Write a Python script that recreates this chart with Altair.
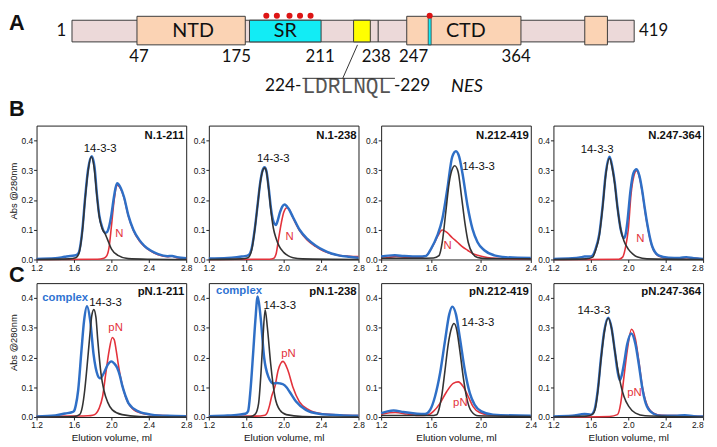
import altair as alt
import pandas as pd

# ---------------- data: panel A (residue numbers of N protein) ----------------
bar_span = [[1, 419]]
globular_domains = [[47, 175], [247, 364], [395, 406]]
domain_names = [["NTD", 111], ["CTD", 305.5]]
sr_region = [[177, 211]]
nes_region = [[224, 229]]
boundary_238 = [238]
ctd_site = [[269, 272]]
phospho_sites = [185, 190, 196, 201, 206, 270.5]
residue_labels = [47, 175, 211, 238, 247, 364]

# ---------------- data: SEC profiles [elution volume ml, A280] ----------------
B1_complex = [[1.2,0.002],[1.4,0.004],[1.5,0.009],[1.56,0.012],[1.62,0.014],[1.65,0.022],[1.67,0.05],[1.69,0.1],[1.72,0.21],[1.75,0.3],[1.79,0.347],[1.82,0.31],[1.845,0.22],[1.87,0.15],[1.9,0.11],[1.935,0.09],[1.955,0.093],[1.975,0.11],[2.0,0.15],[2.03,0.215],[2.06,0.256],[2.1,0.24],[2.135,0.21],[2.18,0.15],[2.235,0.1],[2.3,0.065],[2.35,0.047],[2.42,0.03],[2.5,0.018],[2.6,0.011],[2.65,0.012],[2.7,0.008],[2.8,0.004]]
B1_1433 = [[1.2,0.0],[1.55,0.002],[1.62,0.006],[1.65,0.018],[1.67,0.046],[1.69,0.096],[1.72,0.205],[1.75,0.295],[1.785,0.345],[1.815,0.31],[1.845,0.215],[1.87,0.145],[1.9,0.105],[1.935,0.085],[1.955,0.07],[2.0,0.036],[2.07,0.014],[2.18,0.003],[2.4,0.001],[2.8,0.0]]
B1_N = [[1.2,0.0],[1.85,0.001],[1.92,0.004],[1.95,0.012],[1.975,0.04],[2.0,0.11],[2.03,0.2],[2.06,0.25],[2.1,0.237],[2.135,0.207],[2.18,0.148],[2.235,0.098],[2.3,0.062],[2.35,0.045],[2.42,0.028],[2.5,0.016],[2.6,0.009],[2.65,0.011],[2.7,0.006],[2.8,0.003]]

B2_complex = [[1.2,0.003],[1.4,0.005],[1.5,0.008],[1.55,0.01],[1.6,0.012],[1.63,0.016],[1.66,0.04],[1.69,0.1],[1.72,0.18],[1.75,0.26],[1.775,0.3],[1.795,0.31],[1.815,0.298],[1.84,0.24],[1.865,0.17],[1.89,0.128],[1.917,0.116],[1.94,0.135],[1.96,0.158],[1.985,0.178],[2.01,0.185],[2.05,0.172],[2.1,0.142],[2.17,0.1],[2.25,0.07],[2.34,0.047],[2.42,0.032],[2.51,0.02],[2.6,0.013],[2.7,0.009],[2.8,0.006]]
B2_1433 = [[1.2,0.0],[1.55,0.002],[1.62,0.006],[1.66,0.035],[1.69,0.097],[1.72,0.178],[1.75,0.258],[1.775,0.298],[1.795,0.308],[1.815,0.296],[1.84,0.235],[1.865,0.16],[1.89,0.105],[1.92,0.07],[1.95,0.046],[2.0,0.024],[2.05,0.012],[2.1,0.006],[2.2,0.002],[2.8,0.0]]
B2_N = [[1.2,0.0],[1.85,0.001],[1.89,0.003],[1.92,0.02],[1.94,0.058],[1.976,0.125],[2.0,0.158],[2.035,0.174],[2.06,0.168],[2.1,0.14],[2.17,0.097],[2.25,0.066],[2.34,0.044],[2.42,0.029],[2.51,0.019],[2.6,0.013],[2.7,0.011],[2.8,0.01]]

B3_complex = [[1.2,0.01],[1.26,0.013],[1.31,0.014],[1.38,0.012],[1.5,0.01],[1.56,0.012],[1.6,0.036],[1.65,0.08],[1.69,0.135],[1.73,0.235],[1.77,0.345],[1.8,0.364],[1.826,0.345],[1.852,0.29],[1.893,0.18],[1.933,0.102],[1.973,0.058],[2.027,0.031],[2.107,0.014],[2.2,0.008],[2.4,0.005]]
B3_1433 = [[1.2,0.004],[1.5,0.004],[1.62,0.005],[1.664,0.013],[1.69,0.058],[1.718,0.158],[1.745,0.257],[1.772,0.306],[1.79,0.315],[1.817,0.295],[1.844,0.213],[1.871,0.125],[1.898,0.058],[1.933,0.02],[1.973,0.007],[2.05,0.003],[2.4,0.002]]
B3_N = [[1.2,0.003],[1.26,0.007],[1.32,0.01],[1.4,0.007],[1.5,0.006],[1.557,0.012],[1.6,0.035],[1.624,0.053],[1.656,0.08],[1.69,0.099],[1.73,0.09],[1.77,0.073],[1.812,0.058],[1.85,0.043],[1.893,0.031],[1.933,0.02],[1.973,0.014],[2.05,0.007],[2.2,0.003],[2.4,0.002]]

B4_complex = [[1.2,0.002],[1.4,0.004],[1.5,0.008],[1.533,0.01],[1.59,0.01],[1.62,0.014],[1.65,0.035],[1.69,0.085],[1.726,0.18],[1.76,0.29],[1.8,0.345],[1.83,0.31],[1.855,0.26],[1.884,0.178],[1.92,0.1],[1.954,0.072],[1.975,0.09],[1.99,0.125],[2.025,0.235],[2.055,0.29],[2.088,0.303],[2.12,0.28],[2.147,0.235],[2.175,0.175],[2.2,0.125],[2.253,0.047],[2.323,0.014],[2.43,0.006],[2.55,0.005],[2.62,0.008],[2.7,0.004],[2.8,0.002]]
B4_1433 = [[1.2,0.0],[1.55,0.002],[1.62,0.008],[1.65,0.03],[1.69,0.08],[1.726,0.175],[1.76,0.285],[1.8,0.34],[1.83,0.305],[1.855,0.255],[1.884,0.175],[1.92,0.1],[1.954,0.062],[2.0,0.035],[2.05,0.018],[2.1,0.008],[2.2,0.002],[2.8,0.0]]
B4_N = [[1.2,0.0],[1.9,0.001],[1.94,0.008],[1.97,0.04],[2.0,0.1],[2.03,0.22],[2.06,0.28],[2.088,0.298],[2.12,0.275],[2.147,0.232],[2.175,0.172],[2.2,0.122],[2.253,0.045],[2.323,0.012],[2.43,0.004],[2.55,0.004],[2.62,0.006],[2.8,0.001]]

C1_complex = [[1.2,0.002],[1.4,0.005],[1.506,0.012],[1.576,0.016],[1.6,0.02],[1.62,0.04],[1.645,0.09],[1.68,0.223],[1.708,0.323],[1.739,0.372],[1.774,0.323],[1.809,0.212],[1.854,0.14],[1.88,0.13],[1.92,0.148],[1.96,0.175],[2.0,0.187],[2.03,0.18],[2.063,0.165],[2.09,0.14],[2.115,0.107],[2.15,0.072],[2.184,0.046],[2.289,0.019],[2.428,0.008],[2.6,0.004],[2.8,0.003]]
C1_1433 = [[1.2,0.0],[1.6,0.002],[1.66,0.008],[1.69,0.035],[1.715,0.09],[1.74,0.17],[1.767,0.265],[1.79,0.34],[1.812,0.361],[1.835,0.335],[1.854,0.26],[1.889,0.146],[1.92,0.09],[1.96,0.05],[2.01,0.024],[2.115,0.008],[2.3,0.002],[2.8,0.0]]
C1_pN = [[1.2,0.002],[1.6,0.003],[1.75,0.004],[1.8,0.006],[1.836,0.012],[1.87,0.03],[1.906,0.069],[1.94,0.146],[1.976,0.223],[2.01,0.267],[2.03,0.26],[2.052,0.223],[2.075,0.175],[2.097,0.135],[2.15,0.069],[2.22,0.03],[2.323,0.013],[2.5,0.006],[2.8,0.003]]

C2_complex = [[1.2,0.003],[1.4,0.005],[1.52,0.008],[1.59,0.011],[1.62,0.02],[1.645,0.09],[1.673,0.212],[1.697,0.323],[1.722,0.405],[1.745,0.36],[1.757,0.323],[1.791,0.2],[1.837,0.135],[1.889,0.113],[1.93,0.114],[1.958,0.113],[1.993,0.11],[2.03,0.1],[2.063,0.085],[2.132,0.052],[2.237,0.024],[2.376,0.011],[2.6,0.006],[2.8,0.004]]
C2_1433 = [[1.2,0.0],[1.65,0.002],[1.697,0.01],[1.732,0.046],[1.757,0.146],[1.777,0.256],[1.802,0.36],[1.826,0.3],[1.861,0.179],[1.906,0.069],[1.958,0.024],[2.028,0.008],[2.2,0.002],[2.8,0.0]]
C2_pN = [[1.2,0.002],[1.7,0.003],[1.8,0.006],[1.82,0.012],[1.85,0.04],[1.871,0.069],[1.906,0.102],[1.941,0.157],[1.993,0.187],[2.045,0.157],[2.097,0.102],[2.167,0.052],[2.271,0.024],[2.41,0.011],[2.6,0.007],[2.8,0.005]]

C3_complex = [[1.2,0.013],[1.25,0.019],[1.3,0.022],[1.38,0.017],[1.487,0.011],[1.553,0.01],[1.593,0.024],[1.632,0.069],[1.672,0.146],[1.712,0.256],[1.746,0.345],[1.77,0.371],[1.8,0.345],[1.831,0.267],[1.871,0.157],[1.911,0.08],[1.95,0.041],[2.004,0.019],[2.097,0.008],[2.4,0.004]]
C3_1433 = [[1.2,0.005],[1.6,0.005],[1.645,0.008],[1.665,0.028],[1.685,0.069],[1.712,0.157],[1.738,0.245],[1.765,0.3],[1.784,0.314],[1.805,0.295],[1.831,0.223],[1.858,0.135],[1.89,0.057],[1.924,0.019],[1.977,0.004],[2.4,0.002]]
C3_pN = [[1.2,0.008],[1.22,0.011],[1.314,0.015],[1.407,0.01],[1.513,0.005],[1.566,0.006],[1.619,0.019],[1.672,0.046],[1.725,0.085],[1.778,0.113],[1.818,0.118],[1.858,0.102],[1.898,0.069],[1.937,0.035],[1.99,0.015],[2.07,0.007],[2.4,0.003]]

C4_complex = [[1.2,0.002],[1.4,0.004],[1.533,0.01],[1.6,0.008],[1.639,0.024],[1.674,0.09],[1.709,0.2],[1.744,0.29],[1.786,0.334],[1.821,0.3],[1.856,0.223],[1.884,0.157],[1.909,0.124],[1.93,0.14],[1.954,0.179],[1.989,0.245],[2.032,0.281],[2.077,0.245],[2.112,0.179],[2.154,0.09],[2.2,0.035],[2.27,0.011],[2.358,0.004],[2.5,0.004],[2.604,0.006],[2.7,0.003],[2.8,0.002]]
C4_1433 = [[1.2,0.0],[1.55,0.003],[1.62,0.01],[1.645,0.025],[1.674,0.085],[1.709,0.195],[1.744,0.285],[1.786,0.332],[1.821,0.298],[1.856,0.222],[1.902,0.135],[1.954,0.069],[2.007,0.035],[2.077,0.013],[2.18,0.004],[2.8,0.0]]
C4_pN = [[1.2,0.0],[1.8,0.002],[1.884,0.008],[1.919,0.046],[1.954,0.135],[1.989,0.223],[2.035,0.295],[2.077,0.262],[2.112,0.19],[2.154,0.096],[2.2,0.041],[2.27,0.013],[2.358,0.006],[2.6,0.004],[2.8,0.002]]

panel_titles_B = ["N.1-211", "N.1-238", "N.212-419", "N.247-364"]
panel_titles_C = ["pN.1-211", "pN.1-238", "pN.212-419", "pN.247-364"]
x_max = [2.8, 2.8, 2.4, 2.8]

# peak labels: [text, elution volume, A280, kind]
labels_B = [
    [["14-3-3", 1.88, 0.372, "p"], ["N", 2.084, 0.086, "n"]],
    [["14-3-3", 1.889, 0.336, "p"], ["N", 2.063, 0.075, "n"]],
    [["14-3-3", 1.981, 0.312, "p"], ["N", 1.732, 0.045, "n"]],
    [["14-3-3", 1.667, 0.367, "p"], ["N", 2.13, 0.069, "n"]],
]
labels_C = [
    [["complex", 1.506, 0.4, "c"], ["14-3-3", 1.937, 0.383, "p"], ["pN", 2.045, 0.30, "n"]],
    [["complex", 1.523, 0.422, "c"], ["14-3-3", 1.958, 0.372, "p"], ["pN", 2.052, 0.212, "n"]],
    [["14-3-3", 1.976, 0.317, "p"], ["pN", 1.835, 0.046, "n"]],
    [["14-3-3", 1.632, 0.356, "p"], ["pN", 2.067, 0.08, "n"]],
]

# ---------------- styling / layout ----------------
FONT = "Liberation Sans"
AFONT = "Lato"
BLUE = "#2f6fc6"
BLACK = "#333333"
RED = "#e3323b"
W, H = 152, 136

def pts_df(pts):
    return pd.DataFrame({"x": [p[0] for p in pts], "y": [p[1] for p in pts]})


def sec_layers(title, xmax, blue, black, red, labels, first_col, bottom_row, last_col):
    xs = alt.Scale(domain=[1.2, xmax], nice=False, zero=False)
    ys = alt.Scale(domain=[0, 0.45], nice=False)
    xvals = [1.2, 1.6, 2.0, 2.4, 2.8] if xmax > 2.5 else [1.2, 1.6, 2.0, 2.4]
    xkw = dict(values=xvals, format=".1f", labelFlush=False, labelOverlap=False)
    if last_col:
        xkw["labelAlign"] = alt.ExprRef(expr="datum.value > 2.75 ? 'right' : 'center'")
    if bottom_row:
        xaxis = alt.Axis(title="Elution volume, ml", titleFontSize=10, titlePadding=3, **xkw)
    else:
        xaxis = alt.Axis(title=None, **xkw)
    ykw = dict(values=[0, 0.1, 0.2, 0.3, 0.4], format=".1f", labelOverlap=False)
    if first_col:
        yaxis = alt.Axis(title="Abs @280nm", titleFontSize=9.5, titleX=-23,
                         titleY=(66 if not bottom_row else 60), titleBaseline="middle", **ykw)
    else:
        yaxis = alt.Axis(title=None, **ykw)
    X = alt.X("x:Q", scale=xs, axis=xaxis)
    Y = alt.Y("y:Q", scale=ys, axis=yaxis)
    layers = []
    for pts, color, sw in [(red, RED, 1.6), (blue, BLUE, 2.5), (black, BLACK, 1.6)]:
        layers.append(
            alt.Chart(pts_df(pts)).mark_line(color=color, strokeWidth=sw, interpolate="monotone")
            .encode(x=X, y=Y)
        )
    ldf = pd.DataFrame(labels, columns=["t", "x", "y", "k"])
    styles = {"p": ("#111111", "normal"), "n": (RED, "normal"), "c": ("#2f73d2", "bold")}
    for k, (col, fw) in styles.items():
        sub = ldf[ldf.k == k]
        if len(sub) == 0:
            continue
        layers.append(
            alt.Chart(sub).mark_text(font=FONT, fontSize=11.5, fontWeight=fw, color=col,
                                     baseline="middle")
            .encode(x=X, y=Y, text="t:N")
        )
    layers.append(
        alt.Chart(pd.DataFrame({"t": [title]})).mark_text(
            font=FONT, fontSize=11.5, fontWeight="bold", align="right", baseline="middle",
            color="#111")
        .encode(x=alt.value(W - 2), y=alt.value(11 if not bottom_row else 9), text="t:N")
    )
    return layers


def letter(ch, y):
    return alt.Chart(pd.DataFrame({"t": [ch]})).mark_text(
        font=FONT, fontSize=22, fontWeight="bold", align="left", baseline="middle", color="#111"
    ).encode(x=alt.value(-28), y=alt.value(y), text="t:N")


# ---- panel A (domain map) drawn above panel B1 ----
res = alt.Scale(domain=[1, 47, 175, 211, 224, 229, 238, 247, 364, 419],
                range=[36, 102, 212, 289, 322, 339, 347, 376, 492, 607])
OFF = -119  # vertical anchor of panel A relative to B1 plot top


def spans(rows):
    return pd.DataFrame({"a": [r[0] for r in rows], "b": [r[1] for r in rows]})


def rect_layer(rows, fill, y1, y2, sw=1.0):
    return alt.Chart(spans(rows)).mark_rect(fill=fill, stroke="#3a3a3a", strokeWidth=sw).encode(
        x=alt.X("a:Q", scale=res, axis=None), x2="b:Q",
        y=alt.value(y1 + OFF), y2=alt.value(y2 + OFF))


A_layers = [
    rect_layer(bar_span, "#ecd9d9", 12, 34),
    rect_layer(sr_region, "#12ecf5", 12, 34),
    rect_layer(nes_region, "#ffff00", 12, 34),
    alt.Chart(pd.DataFrame({"a": boundary_238})).mark_rule(color="#444", strokeWidth=1.2).encode(
        x=alt.X("a:Q", scale=res, axis=None), y=alt.value(12 + OFF), y2=alt.value(34 + OFF)),
    rect_layer(globular_domains, "#fbd3b4", 8, 37),
    rect_layer(ctd_site, "#12ecf5", 8, 37, 0.8),
    alt.Chart(pd.DataFrame({"a": phospho_sites})).mark_circle(size=38, color="#dd1414", opacity=1).encode(
        x=alt.X("a:Q", scale=res, axis=None), y=alt.value(7.5 + OFF)),
    alt.Chart(pd.DataFrame({"t": [d[0] for d in domain_names], "a": [d[1] for d in domain_names]}))
    .mark_text(font=AFONT, fontSize=20, color="#111", baseline="middle", dx=2)
    .encode(x=alt.X("a:Q", scale=res, axis=None), y=alt.value(23.5 + OFF), text="t:N"),
    alt.Chart(pd.DataFrame({"t": ["SR"], "a": [(sr_region[0][0] + sr_region[0][1]) / 2]}))
    .mark_text(font=AFONT, fontSize=20, color="#111", baseline="middle")
    .encode(x=alt.X("a:Q", scale=res, axis=None), y=alt.value(23.5 + OFF), text="t:N"),
    alt.Chart(pd.DataFrame({"t": ["1"], "a": [bar_span[0][0]]}))
    .mark_text(font=AFONT, fontSize=17, color="#111", baseline="middle", align="right", dx=-6)
    .encode(x=alt.X("a:Q", scale=res, axis=None), y=alt.value(23 + OFF), text="t:N"),
    alt.Chart(pd.DataFrame({"t": ["419"], "a": [bar_span[0][1]]}))
    .mark_text(font=AFONT, fontSize=17, color="#111", baseline="middle", align="left", dx=5)
    .encode(x=alt.X("a:Q", scale=res, axis=None), y=alt.value(23 + OFF), text="t:N"),
]
label_dx = {47: 2, 175: -9, 211: -1, 238: -2, 247: 7, 364: -5}
for r in residue_labels:
    A_layers.append(
        alt.Chart(pd.DataFrame({"t": [str(r)], "a": [r]}))
        .mark_text(font=AFONT, fontSize=17, color="#111", baseline="middle", dx=label_dx[r])
        .encode(x=alt.X("a:Q", scale=res, axis=None), y=alt.value(49 + OFF), text="t:N")
    )
# NES annotation
A_layers += [
    alt.Chart(pd.DataFrame({"t": ["224-"]})).mark_text(
        font=AFONT, fontSize=17.5, color="#111", baseline="middle", align="right")
    .encode(x=alt.value(269), y=alt.value(79 + OFF), text="t:N"),
    alt.Chart(pd.DataFrame({"t": ["LDRLNQL"]})).mark_text(
        font="Liberation Mono", fontSize=21.5, color="#555", baseline="middle", align="left")
    .encode(x=alt.value(270), y=alt.value(80 + OFF), text="t:N"),
    alt.Chart(pd.DataFrame({"t": ["-229"]})).mark_text(
        font=AFONT, fontSize=17.5, color="#111", baseline="middle", align="left")
    .encode(x=alt.value(363), y=alt.value(79 + OFF), text="t:N"),
    alt.Chart(pd.DataFrame({"t": ["NES"]})).mark_text(
        font=AFONT, fontSize=18.5, fontStyle="italic", color="#111", baseline="middle", align="left")
    .encode(x=alt.value(421), y=alt.value(79 + OFF), text="t:N"),
    alt.Chart(pd.DataFrame({"t": ["o"]})).mark_rule(color="#333", strokeWidth=1).encode(
        x=alt.value(270), x2=alt.value(364), y=alt.value(71 + OFF)),
    alt.Chart(pd.DataFrame({"t": ["c"]})).mark_rule(color="#333", strokeWidth=1).encode(
        x=alt.value(311), x2=alt.value(326), y=alt.value(71 + OFF), y2=alt.value(37 + OFF)),
    letter("A", 15 + OFF),
]

B_sets = [(B1_complex, B1_1433, B1_N), (B2_complex, B2_1433, B2_N),
          (B3_complex, B3_1433, B3_N), (B4_complex, B4_1433, B4_N)]
C_sets = [(C1_complex, C1_1433, C1_pN), (C2_complex, C2_1433, C2_pN),
          (C3_complex, C3_1433, C3_pN), (C4_complex, C4_1433, C4_pN)]

panels = []
for i in range(4):
    bl, bk, rd = B_sets[i]
    lay = sec_layers(panel_titles_B[i], x_max[i], bl, bk, rd, labels_B[i], i == 0, False, i == 3)
    if i == 0:
        lay.append(letter("B", -16.5))
        p = alt.layer(alt.layer(*lay), alt.layer(*A_layers)).resolve_scale(x="independent")
    else:
        p = alt.layer(*lay)
    panels.append(p.properties(width=W, height=H))
for i in range(4):
    bl, bk, rd = C_sets[i]
    lay = sec_layers(panel_titles_C[i], x_max[i], bl, bk, rd, labels_C[i], i == 0, True, i == 3)
    if i == 0:
        lay.append(letter("C", -8))
    panels.append(alt.layer(*lay).properties(width=W, height=H))

chart = alt.concat(*panels, columns=4, spacing=alt.RowColnumber(row=24, column=23),
                   bounds="flush").properties(padding=0).configure_view(
    stroke="#1e1e1e", strokeWidth=1).configure_axis(
    labelFont=FONT, labelFontSize=8.5, labelColor="#111", labelPadding=1,
    labelOverlap=False, labelFlush=False,
    tickSize=3, tickColor="#222", domain=False, grid=False,
    titleFont=FONT, titleFontWeight="normal", titleColor="#111")

chart.save("out.html", embed_options={"renderer": "svg", "actions": False})
